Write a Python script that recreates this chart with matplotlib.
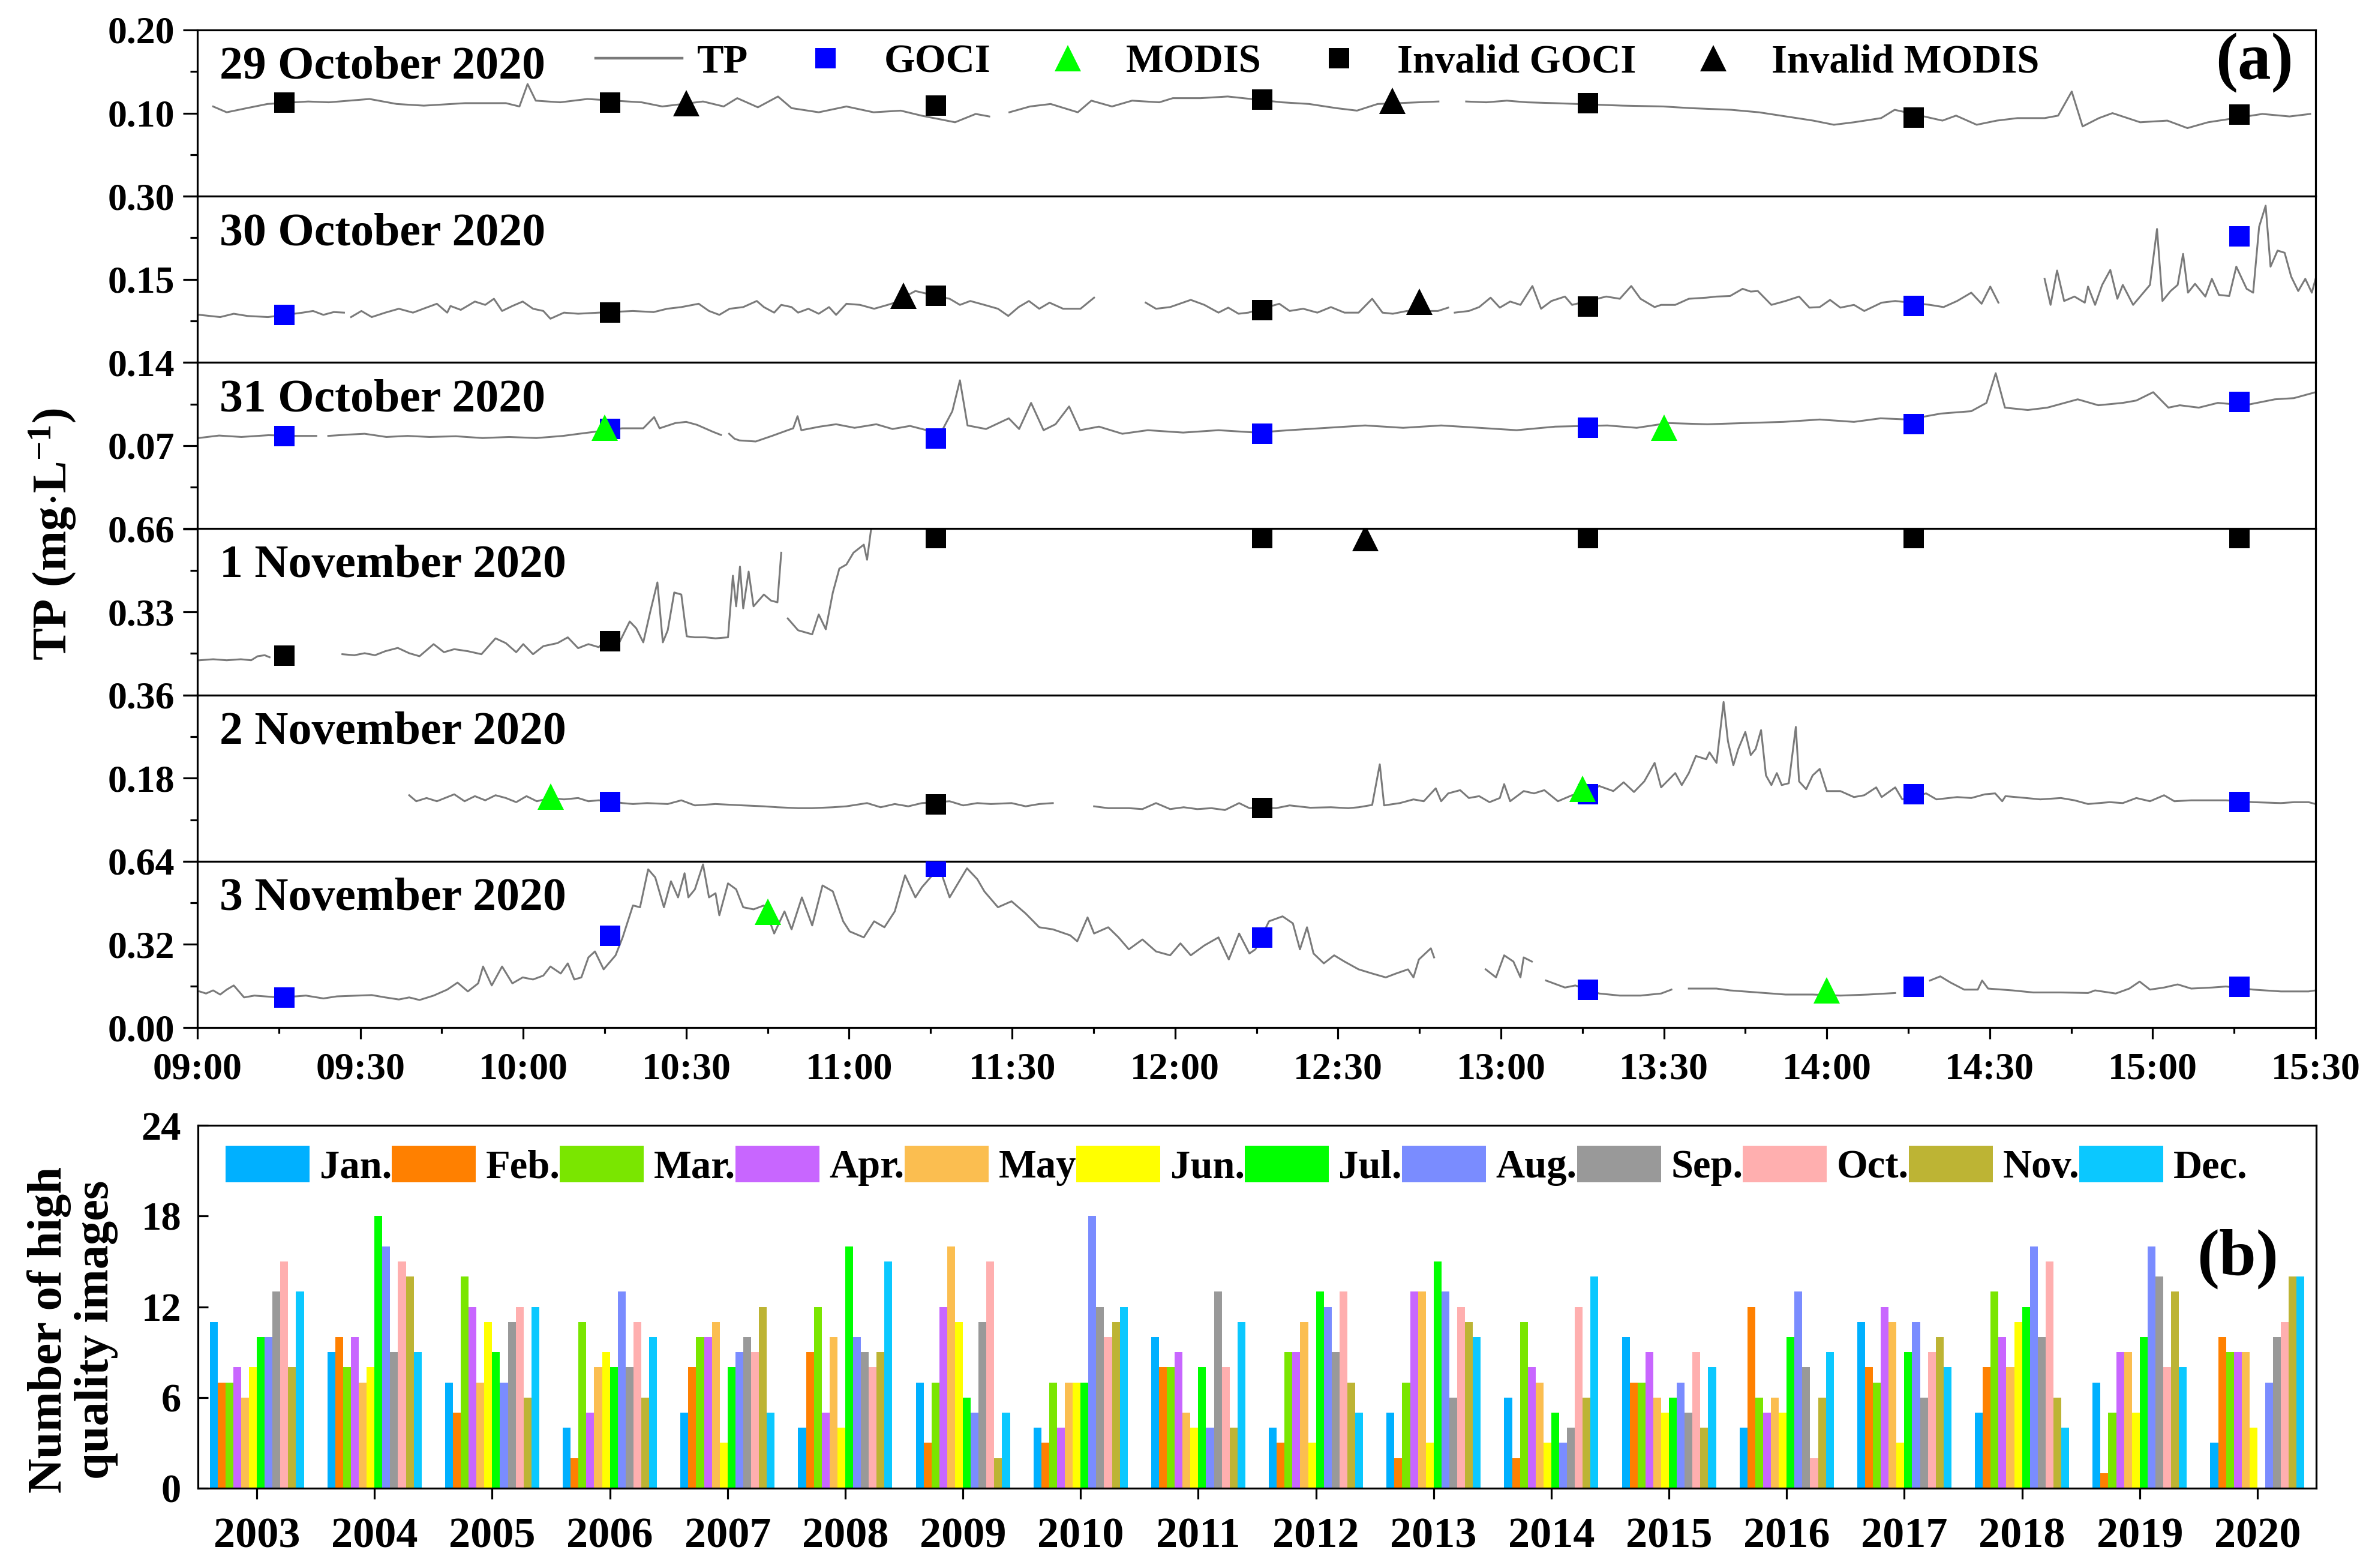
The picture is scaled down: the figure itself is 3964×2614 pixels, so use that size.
import numpy as np
import matplotlib
matplotlib.use('Agg')
import matplotlib.pyplot as plt
from matplotlib.lines import Line2D
from matplotlib.ticker import FixedLocator

plt.rcParams['font.family'] = 'Liberation Serif'
plt.rcParams['font.weight'] = 'bold'
plt.rcParams['mathtext.fontset'] = 'custom'
plt.rcParams['mathtext.rm'] = 'Liberation Serif:bold'
plt.rcParams['mathtext.default'] = 'rm'

nan = np.nan

# ---------------- (a) TP time series, minutes after 09:00 ----------------
oct29 = np.array([
    (2.9, 0.108), (5.4, 0.101), (9.1, 0.106), (12.9, 0.111), (20.4, 0.114), (24.2, 0.113),
    (31.7, 0.117), (36.7, 0.111), (41.7, 0.109), (49.3, 0.112), (56.8, 0.112), (59.3, 0.108),
    (60.8, 0.135), (62.3, 0.115), (66.8, 0.113), (71.8, 0.117), (81.8, 0.113), (85.6, 0.108),
    (93.1, 0.114), (96.9, 0.108), (99.4, 0.118), (103.2, 0.107), (106.9, 0.120), (109.4, 0.106),
    (114.4, 0.101), (119.5, 0.108), (124.5, 0.101), (129.5, 0.103), (133.3, 0.097), (139.5, 0.089),
    (143.3, 0.099), (145.8, 0.096), (147.5, nan), (149.5, 0.101), (153.3, 0.108), (157.1, 0.111),
    (162.1, 0.101), (164.6, 0.115), (168.4, 0.108), (172.1, 0.115), (177.1, 0.113), (179.6, 0.118),
    (184.7, 0.118), (189.7, 0.120), (199.7, 0.113), (204.7, 0.111), (209.7, 0.106), (213.5, 0.103),
    (217.3, 0.111), (224.8, 0.113), (228.5, 0.114), (231.0, nan), (233.6, 0.114), (237.3, 0.113),
    (241.1, 0.115), (244.8, 0.113), (249.8, 0.112), (262.4, 0.109), (269.9, 0.108), (274.9, 0.106),
    (282.4, 0.104), (287.5, 0.101), (292.5, 0.096), (297.5, 0.091), (301.3, 0.086), (305.0, 0.089),
    (310.0, 0.094), (312.5, 0.104), (321.3, 0.091), (323.8, 0.097), (327.6, 0.086), (331.3, 0.091),
    (335.1, 0.094), (340.1, 0.094), (342.6, 0.097), (345.1, 0.126), (347.1, 0.084), (350.1, 0.094),
    (352.6, 0.100), (357.7, 0.089), (362.7, 0.091), (366.4, 0.082), (370.2, 0.089), (380.2, 0.099),
    (385.2, 0.096), (389.0, 0.099)])

oct30 = np.array([
    (0.4, 0.086), (4.2, 0.082), (6.7, 0.088), (9.2, 0.084), (13.0, 0.082), (19.4, 0.090),
    (21.3, 0.093), (23.2, 0.086), (25.1, 0.091), (27.0, 0.090), (27.7, nan), (28.3, 0.082),
    (30.2, 0.093), (32.1, 0.082), (34.6, 0.090), (37.1, 0.097), (39.7, 0.090), (41.6, 0.097),
    (44.1, 0.106), (46.0, 0.090), (46.6, 0.102), (48.5, 0.095), (51.1, 0.110), (53.0, 0.104),
    (54.6, 0.115), (56.1, 0.093), (58.0, 0.102), (59.9, 0.110), (61.8, 0.097), (63.7, 0.093),
    (65.0, 0.079), (67.5, 0.090), (70.1, 0.088), (73.9, 0.090), (80.2, 0.093), (84.0, 0.091),
    (86.5, 0.097), (89.1, 0.100), (92.3, 0.106), (94.2, 0.093), (96.1, 0.086), (98.0, 0.097),
    (100.5, 0.100), (103.0, 0.111), (104.3, 0.100), (106.2, 0.090), (107.5, 0.104), (109.4, 0.100),
    (110.6, 0.090), (112.5, 0.097), (114.4, 0.088), (116.3, 0.100), (117.6, 0.086), (119.5, 0.106),
    (122.0, 0.104), (124.6, 0.097), (127.1, 0.104), (128.4, 0.108), (130.3, 0.119), (132.2, 0.129),
    (135.7, 0.121), (138.5, 0.115), (140.4, 0.104), (142.3, 0.111), (144.9, 0.104), (147.4, 0.097),
    (149.3, 0.084), (151.2, 0.100), (153.1, 0.111), (155.0, 0.097), (156.9, 0.108), (159.4, 0.097),
    (162.6, 0.097), (165.1, 0.117), (170.0, nan), (174.6, 0.108), (176.5, 0.097), (179.1, 0.100),
    (182.9, 0.113), (185.4, 0.104), (188.0, 0.090), (189.8, 0.099), (191.7, 0.088), (193.5, 0.090),
    (199.2, 0.106), (201.1, 0.093), (203.6, 0.097), (206.2, 0.090), (208.7, 0.100), (211.2, 0.090),
    (213.8, 0.090), (216.3, 0.115), (218.2, 0.090), (220.1, 0.088), (222.7, 0.093), (228.4, 0.093),
    (230.3, 0.099), (230.9, nan), (231.5, 0.090), (234.1, 0.093), (236.0, 0.100), (238.1, 0.117),
    (239.8, 0.099), (241.7, 0.110), (243.6, 0.104), (245.8, 0.138), (247.4, 0.097), (249.3, 0.111),
    (251.8, 0.119), (253.1, 0.104), (259.4, 0.119), (261.9, 0.115), (264.0, 0.138), (265.7, 0.115),
    (268.3, 0.100), (269.5, 0.104), (272.1, 0.104), (274.6, 0.115), (277.8, 0.117), (279.7, 0.119),
    (282.2, 0.120), (284.5, 0.133), (286.0, 0.128), (287.3, 0.129), (289.8, 0.104), (292.4, 0.111),
    (294.9, 0.119), (296.8, 0.099), (298.7, 0.100), (300.6, 0.113), (302.5, 0.099), (305.0, 0.104),
    (306.9, 0.093), (310.1, 0.108), (312.6, 0.111), (319.0, 0.104), (321.5, 0.100), (324.0, 0.111),
    (326.6, 0.126), (328.5, 0.106), (330.1, 0.137), (331.6, 0.108), (335.0, nan), (340.1, 0.151),
    (341.2, 0.104), (342.4, 0.166), (343.7, 0.111), (345.6, 0.119), (347.5, 0.108), (348.1, 0.137),
    (349.4, 0.104), (350.7, 0.140), (352.2, 0.167), (353.5, 0.115), (354.5, 0.140), (356.4, 0.104),
    (358.3, 0.126), (359.5, 0.140), (360.8, 0.241), (361.8, 0.111), (363.3, 0.129), (364.6, 0.140),
    (365.6, 0.196), (366.5, 0.126), (367.8, 0.142), (369.7, 0.119), (370.9, 0.151), (372.2, 0.122),
    (374.1, 0.120), (375.4, 0.173), (377.3, 0.133), (378.5, 0.126), (379.6, 0.245), (380.8, 0.283),
    (381.7, 0.173), (383.0, 0.202), (384.3, 0.198), (385.5, 0.155), (386.8, 0.129), (388.1, 0.151),
    (389.3, 0.126), (390.0, 0.151)])

oct31 = np.array([
    (0.2, 0.0764), (4.0, 0.0785), (8.1, 0.0773), (13.1, 0.0788), (18.0, 0.0782), (21.9, 0.0782),
    (23.0, nan), (24.1, 0.0782), (27.8, 0.0793), (30.8, 0.0800), (34.8, 0.0773), (38.7, 0.0782),
    (42.7, 0.0773), (47.6, 0.0779), (52.5, 0.0764), (57.4, 0.0773), (62.4, 0.0764), (67.3, 0.0782),
    (70.3, 0.0800), (78.2, 0.0846), (82.1, 0.0846), (84.1, 0.0940), (85.1, 0.0846), (88.0, 0.0890),
    (90.0, 0.0900), (92.0, 0.0875), (94.9, 0.0817), (96.4, 0.0790), (97.2, nan), (97.9, 0.0800),
    (98.9, 0.0758), (99.8, 0.0744), (102.8, 0.0735), (105.8, 0.0782), (108.7, 0.0830), (109.7, 0.0846),
    (110.5, 0.0948), (111.2, 0.0830), (114.6, 0.0860), (117.6, 0.0880), (121.0, 0.0850), (125.0, 0.0880),
    (128.0, 0.0840), (131.2, 0.0866), (136.8, 0.0800), (139.0, 0.0990), (140.4, 0.1250), (141.8, 0.0870),
    (145.2, 0.0840), (149.4, 0.0930), (151.3, 0.0840), (153.5, 0.1060), (155.8, 0.0830), (158.0, 0.0880),
    (160.5, 0.1030), (162.5, 0.0830), (166.0, 0.0860), (170.3, 0.0800), (175.0, 0.0830), (181.5, 0.0810),
    (188.0, 0.0830), (195.0, 0.0810), (201.0, 0.0830), (208.0, 0.0850), (215.0, 0.0870), (222.0, 0.0850),
    (229.0, 0.0870), (236.0, 0.0850), (242.9, 0.0830), (250.0, 0.0860), (259.6, 0.0870), (265.0, 0.0850),
    (270.8, 0.0890), (278.0, 0.0880), (284.8, 0.0890), (292.0, 0.0900), (298.7, 0.0920), (305.0, 0.0900),
    (309.9, 0.0930), (315.0, 0.0920), (321.0, 0.0970), (326.6, 0.0990), (329.4, 0.1060), (331.1, 0.1310),
    (332.8, 0.1020), (337.0, 0.1000), (340.6, 0.1020), (346.2, 0.1090), (350.0, 0.1040), (354.5, 0.1060),
    (357.0, 0.1080), (360.1, 0.1150), (362.9, 0.1020), (365.0, 0.1040), (368.5, 0.1020), (372.0, 0.1060),
    (377.0, 0.1040), (382.5, 0.1090), (386.0, 0.1100), (390.0, 0.1150)])

nov1 = np.array([
    (0.4, 0.138), (2.9, 0.142), (5.4, 0.138), (8.0, 0.142), (9.9, 0.138), (11.1, 0.154),
    (12.4, 0.158), (13.3, 0.150), (20.0, nan), (26.7, 0.162), (28.9, 0.158), (30.8, 0.166),
    (32.7, 0.158), (34.6, 0.174), (36.9, 0.187), (39.0, 0.166), (40.9, 0.154), (43.5, 0.202),
    (45.4, 0.170), (47.3, 0.182), (49.8, 0.174), (52.3, 0.162), (54.9, 0.225), (56.8, 0.206),
    (58.7, 0.170), (60.0, 0.202), (61.8, 0.162), (63.7, 0.194), (66.3, 0.206), (68.2, 0.229),
    (70.1, 0.186), (72.0, 0.202), (73.9, 0.190), (75.8, 0.233), (77.7, 0.209), (79.6, 0.292),
    (80.8, 0.265), (82.1, 0.209), (83.4, 0.332), (84.7, 0.447), (85.7, 0.209), (86.6, 0.257),
    (87.8, 0.407), (89.1, 0.399), (90.1, 0.233), (91.6, 0.229), (93.5, 0.229), (95.4, 0.225),
    (97.7, 0.229), (98.6, 0.474), (99.2, 0.352), (99.9, 0.510), (100.5, 0.344), (101.5, 0.490),
    (102.4, 0.352), (104.3, 0.399), (105.6, 0.375), (106.8, 0.368), (107.5, 0.565), (108.1, nan),
    (108.7, 0.304), (110.6, 0.257), (113.2, 0.241), (114.4, 0.320), (115.7, 0.261), (117.0, 0.407),
    (118.2, 0.502), (119.5, 0.518), (120.8, 0.565), (122.7, 0.597), (123.3, 0.537), (124.0, 0.652),
    (124.6, 0.700), (125.5, 0.760)])

nov2 = np.array([
    (39.0, 0.143), (40.3, 0.130), (42.2, 0.137), (44.1, 0.130), (47.3, 0.145), (49.2, 0.130),
    (51.1, 0.141), (53.0, 0.132), (54.9, 0.143), (56.8, 0.137), (58.7, 0.128), (60.6, 0.141),
    (62.5, 0.130), (65.0, 0.137), (67.5, 0.134), (70.1, 0.137), (72.0, 0.130), (73.9, 0.132),
    (76.0, 0.130), (78.3, 0.126), (80.2, 0.124), (82.8, 0.126), (86.6, 0.124), (89.1, 0.132),
    (91.6, 0.121), (95.4, 0.124), (100.5, 0.121), (104.3, 0.119), (106.8, 0.117), (110.6, 0.115),
    (113.2, 0.115), (117.0, 0.117), (119.5, 0.119), (123.3, 0.126), (125.8, 0.117), (128.4, 0.124),
    (130.9, 0.119), (133.4, 0.126), (138.5, 0.130), (141.0, 0.121), (143.6, 0.126), (146.1, 0.124),
    (149.9, 0.126), (152.5, 0.119), (155.0, 0.124), (157.5, 0.126), (161.0, nan), (165.1, 0.119),
    (167.7, 0.115), (171.5, 0.115), (174.0, 0.113), (176.5, 0.126), (179.1, 0.113), (181.6, 0.117),
    (184.1, 0.113), (186.7, 0.115), (189.2, 0.111), (191.8, 0.126), (193.7, 0.115), (196.0, 0.116),
    (198.6, 0.115), (201.1, 0.121), (204.9, 0.116), (208.7, 0.117), (211.9, 0.115), (213.8, 0.117),
    (216.3, 0.122), (217.7, 0.210), (218.5, 0.121), (221.4, 0.126), (223.9, 0.134), (225.8, 0.130),
    (228.0, 0.158), (229.0, 0.130), (230.3, 0.147), (232.5, 0.154), (234.1, 0.137), (236.0, 0.141),
    (237.9, 0.128), (239.8, 0.137), (240.6, 0.167), (241.7, 0.130), (244.2, 0.152), (246.1, 0.147),
    (248.0, 0.154), (250.5, 0.130), (253.1, 0.143), (255.6, 0.147), (258.1, 0.163), (260.7, 0.152),
    (262.6, 0.171), (264.5, 0.150), (266.4, 0.173), (268.3, 0.213), (269.5, 0.160), (272.1, 0.191),
    (273.3, 0.165), (274.6, 0.191), (275.9, 0.228), (277.8, 0.221), (278.4, 0.236), (279.7, 0.213),
    (281.0, 0.345), (281.8, 0.260), (282.8, 0.208), (283.7, 0.243), (285.0, 0.280), (286.0, 0.230),
    (286.9, 0.243), (287.9, 0.284), (288.8, 0.186), (289.8, 0.165), (290.8, 0.191), (291.7, 0.165),
    (293.0, 0.169), (294.3, 0.291), (294.9, 0.173), (296.2, 0.156), (297.4, 0.186), (298.7, 0.200),
    (300.0, 0.152), (302.5, 0.152), (305.0, 0.139), (306.9, 0.143), (309.1, 0.160), (310.1, 0.139),
    (312.6, 0.160), (313.9, 0.134), (318.3, 0.147), (320.2, 0.134), (324.0, 0.139), (326.6, 0.137),
    (329.1, 0.145), (331.0, 0.147), (332.3, 0.130), (332.9, 0.141), (336.7, 0.137), (339.3, 0.134),
    (343.1, 0.137), (345.6, 0.132), (348.1, 0.124), (352.1, 0.128), (354.5, 0.126), (357.0, 0.137),
    (359.5, 0.130), (362.1, 0.143), (364.0, 0.130), (367.1, 0.132), (370.9, 0.132), (373.5, 0.132),
    (378.5, 0.128), (383.6, 0.126), (386.1, 0.128), (388.7, 0.128), (390.0, 0.124)])

nov3 = np.array([
    (0.4, 0.139), (1.6, 0.131), (2.9, 0.143), (4.2, 0.127), (5.4, 0.146), (6.7, 0.162),
    (8.6, 0.116), (10.5, 0.123), (12.4, 0.120), (15.0, 0.116), (18.1, 0.120), (20.0, 0.123),
    (23.2, 0.112), (25.7, 0.120), (29.5, 0.123), (32.1, 0.125), (34.6, 0.116), (37.1, 0.108),
    (39.0, 0.116), (40.9, 0.106), (43.5, 0.123), (46.0, 0.146), (47.9, 0.173), (49.8, 0.139),
    (51.7, 0.170), (52.6, 0.235), (54.2, 0.162), (56.1, 0.235), (58.0, 0.170), (59.9, 0.193),
    (61.8, 0.185), (63.7, 0.200), (65.0, 0.235), (66.9, 0.208), (68.2, 0.247), (69.4, 0.185),
    (70.7, 0.193), (72.0, 0.270), (73.2, 0.293), (74.8, 0.224), (77.0, 0.278), (78.3, 0.347),
    (80.2, 0.470), (81.5, 0.463), (83.0, 0.609), (84.3, 0.578), (85.9, 0.463), (87.2, 0.563),
    (88.5, 0.501), (89.7, 0.594), (90.4, 0.501), (91.6, 0.532), (93.1, 0.628), (94.2, 0.501),
    (95.4, 0.517), (96.1, 0.432), (97.7, 0.555), (99.2, 0.532), (100.5, 0.463), (102.4, 0.455),
    (104.3, 0.470), (106.2, 0.362), (108.1, 0.447), (109.4, 0.378), (111.3, 0.501), (113.2, 0.393),
    (115.1, 0.547), (117.0, 0.524), (118.9, 0.409), (120.1, 0.370), (122.7, 0.347), (124.6, 0.409),
    (126.5, 0.386), (128.4, 0.447), (130.3, 0.586), (132.2, 0.501), (133.4, 0.540), (136.6, 0.617),
    (138.5, 0.501), (141.7, 0.613), (143.6, 0.571), (144.9, 0.524), (147.4, 0.463), (149.9, 0.486),
    (152.5, 0.439), (155.0, 0.386), (157.5, 0.378), (160.7, 0.355), (162.0, 0.332), (163.9, 0.424),
    (165.1, 0.362), (167.7, 0.386), (169.6, 0.347), (171.5, 0.301), (174.0, 0.339), (176.5, 0.293),
    (179.1, 0.278), (181.0, 0.324), (182.9, 0.278), (185.4, 0.316), (188.0, 0.347), (189.9, 0.262),
    (191.8, 0.362), (193.7, 0.285), (194.8, 0.301), (197.3, 0.409), (199.8, 0.428), (201.7, 0.401),
    (203.0, 0.301), (204.3, 0.386), (205.5, 0.285), (207.4, 0.247), (209.3, 0.278), (211.2, 0.254),
    (213.8, 0.224), (216.3, 0.208), (218.8, 0.193), (220.7, 0.208), (222.9, 0.224), (223.9, 0.193),
    (224.9, 0.262), (227.1, 0.305), (227.7, 0.270), (232.0, nan), (237.2, 0.224), (239.1, 0.193),
    (240.6, 0.278), (242.3, 0.254), (243.6, 0.193), (244.2, 0.270), (245.7, 0.254), (247.0, nan),
    (248.3, 0.181), (251.8, 0.154), (253.7, 0.162), (258.1, 0.131), (261.9, 0.123), (265.7, 0.123),
    (269.5, 0.131), (271.4, 0.146), (273.0, nan), (274.6, 0.150), (279.7, 0.150), (282.2, 0.143),
    (287.3, 0.135), (292.4, 0.127), (297.4, 0.127), (302.5, 0.123), (307.6, 0.127), (312.6, 0.133),
    (316.0, nan), (319.0, 0.181), (320.9, 0.197), (322.8, 0.173), (325.3, 0.146), (327.8, 0.146),
    (328.6, 0.181), (329.7, 0.150), (334.2, 0.143), (338.0, 0.135), (343.1, 0.135), (348.1, 0.133),
    (349.4, 0.143), (353.2, 0.131), (355.7, 0.150), (357.6, 0.177), (359.5, 0.146), (362.1, 0.154),
    (364.6, 0.166), (367.1, 0.150), (370.9, 0.154), (373.5, 0.158), (378.5, 0.146), (383.6, 0.139),
    (388.7, 0.139), (390.0, 0.143)])

# satellite match-ups
goci_t = [16, 76, 136, 196, 256, 316, 376]
goci_oct29 = [0.113, 0.113, 0.109, 0.116, 0.112, 0.095, 0.098]
goci_ok_oct29 = [0, 0, 0, 0, 0, 0, 0]
goci_oct30 = [0.086, 0.090, 0.121, 0.095, 0.101, 0.102, 0.228]
goci_ok_oct30 = [1, 0, 0, 0, 0, 1, 1]
goci_oct31 = [0.078, 0.084, 0.076, 0.080, 0.085, 0.088, 0.107]
goci_ok_oct31 = [1, 1, 1, 1, 1, 1, 1]
goci_nov1 = [0.156, 0.213, 0.624, 0.624, 0.624, 0.624, 0.624]
goci_ok_nov1 = [0, 0, 0, 0, 0, 0, 0]
goci_nov2 = [nan, 0.128, 0.123, 0.116, 0.145, 0.145, 0.128]
goci_ok_nov2 = [1, 1, 0, 0, 1, 1, 1]
goci_nov3 = [0.116, 0.353, 0.619, 0.347, 0.146, 0.156, 0.156]
goci_ok_nov3 = [1, 1, 1, 1, 1, 1, 1]

modis_t_oct29 = [90, 220]; modis_oct29 = [0.112, 0.115]; modis_ok_oct29 = [0, 0]
modis_t_oct30 = [130, 225]; modis_oct30 = [0.120, 0.110]; modis_ok_oct30 = [0, 0]
modis_t_oct31 = [75, 270]; modis_oct31 = [0.085, 0.085]; modis_ok_oct31 = [1, 1]
modis_t_nov1 = [215]; modis_nov1 = [0.624]; modis_ok_nov1 = [0]
modis_t_nov2 = [65, 255]; modis_nov2 = [0.140, 0.157]; modis_ok_nov2 = [1, 1]
modis_t_nov3 = [105, 300]; modis_nov3 = [0.445, 0.143]; modis_ok_nov3 = [1, 1]

day_titles = ['29 October 2020', '30 October 2020', '31 October 2020',
              '1 November 2020', '2 November 2020', '3 November 2020']
y_max = [0.20, 0.30, 0.14, 0.66, 0.36, 0.64]
time_labels = ['09:00', '09:30', '10:00', '10:30', '11:00', '11:30', '12:00',
               '12:30', '13:00', '13:30', '14:00', '14:30', '15:00', '15:30']

# ---------------- (b) number of high quality images ----------------
years = np.arange(2003, 2021)
months = ['Jan.', 'Feb.', 'Mar.', 'Apr.', 'May', 'Jun.', 'Jul.', 'Aug.', 'Sep.', 'Oct.', 'Nov.', 'Dec.']
jan = [11, 9, 7, 4, 5, 4, 7, 4, 10, 4, 5, 6, 10, 4, 11, 5, 7, 3]
feb = [7, 10, 5, 2, 8, 9, 3, 3, 8, 3, 2, 2, 7, 12, 8, 8, 1, 10]
mar = [7, 8, 14, 11, 10, 12, 7, 7, 8, 9, 7, 11, 7, 6, 7, 13, 5, 9]
apr = [8, 10, 12, 5, 10, 5, 12, 4, 9, 9, 13, 8, 9, 5, 12, 10, 9, 9]
may = [6, 7, 7, 8, 11, 10, 16, 7, 5, 11, 13, 7, 6, 6, 11, 8, 9, 9]
jun = [8, 8, 11, 9, 3, 4, 11, 7, 4, 3, 3, 3, 5, 5, 3, 11, 5, 4]
jul = [10, 18, 9, 8, 8, 16, 6, 7, 8, 13, 15, 5, 6, 10, 9, 12, 10, 0]
aug = [10, 16, 7, 13, 9, 10, 5, 18, 4, 12, 13, 3, 7, 13, 11, 16, 16, 7]
sep = [13, 9, 11, 8, 10, 9, 11, 12, 13, 9, 6, 4, 5, 8, 6, 10, 14, 10]
octo = [15, 15, 12, 11, 9, 8, 15, 10, 8, 13, 12, 12, 9, 2, 9, 15, 8, 11]
nov = [8, 14, 6, 6, 12, 9, 2, 11, 4, 7, 11, 6, 4, 6, 10, 6, 13, 14]
dec = [13, 9, 12, 10, 5, 15, 5, 12, 11, 5, 10, 14, 8, 9, 8, 4, 8, 14]
month_colors = ['#00B0FF', '#FF8000', '#7AE600', '#C866FF', '#FBBE50', '#FFFF00',
                '#00FF00', '#7A8CFF', '#999999', '#FFAFAF', '#BDB434', '#0BC8FF']

# ---------------- figure ----------------
W_PX, H_PX, DPI = 3964, 2614, 200
fig = plt.figure(figsize=(W_PX / DPI, H_PX / DPI), dpi=DPI)

left = 329 / W_PX
width = 3531 / W_PX
top_px = 50
ph = 1663 / 6

days = [oct29, oct30, oct31, nov1, nov2, nov3]
gocis = [goci_oct29, goci_oct30, goci_oct31, goci_nov1, goci_nov2, goci_nov3]
goci_oks = [goci_ok_oct29, goci_ok_oct30, goci_ok_oct31, goci_ok_nov1, goci_ok_nov2, goci_ok_nov3]
modis_ts = [modis_t_oct29, modis_t_oct30, modis_t_oct31, modis_t_nov1, modis_t_nov2, modis_t_nov3]
modiss = [modis_oct29, modis_oct30, modis_oct31, modis_nov1, modis_nov2, modis_nov3]
modis_oks = [modis_ok_oct29, modis_ok_oct30, modis_ok_oct31, modis_ok_nov1, modis_ok_nov2, modis_ok_nov3]

sq_ms = 12
tri_ms = 15.5
lw_sp = 1.15

axes = []
for i in range(6):
    b = 1 - (top_px + ph * (i + 1)) / H_PX
    ax = fig.add_axes([left, b, width, ph / H_PX])
    axes.append(ax)
    d = days[i]
    ax.plot(d[:, 0], d[:, 1], color='#7a7a7a', lw=1.1, zorder=2)

    g = np.array(gocis[i]); ok = np.array(goci_oks[i]) == 1
    gt = np.array(goci_t)
    ax.plot(gt[ok], g[ok], 's', color='#0000FF', ms=sq_ms, mew=0, zorder=4)
    ax.plot(gt[~ok], g[~ok], 's', color='black', ms=sq_ms, mew=0, zorder=4)
    mt = np.array(modis_ts[i]); mv = np.array(modiss[i]); mok = np.array(modis_oks[i]) == 1
    ax.plot(mt[mok], mv[mok], '^', color='#00FF00', ms=tri_ms, mew=0, zorder=5)
    ax.plot(mt[~mok], mv[~mok], '^', color='black', ms=tri_ms, mew=0, zorder=5)

    ym = y_max[i]
    ax.set_xlim(0, 390)
    ax.set_ylim(0, ym)
    ax.set_yticks([0, ym / 2, ym])
    lab0 = '0.00' if i == 5 else ''
    ax.set_yticklabels([lab0, '%.2f' % (ym / 2), '%.2f' % ym])
    ax.yaxis.set_minor_locator(FixedLocator([ym / 4, 3 * ym / 4]))
    ax.tick_params(axis='y', which='major', direction='out', length=8.5, width=lw_sp,
                   labelsize=23, pad=5)
    ax.tick_params(axis='y', which='minor', direction='out', length=4.5, width=lw_sp)
    ax.set_xticks(np.arange(0, 391, 30))
    ax.xaxis.set_minor_locator(FixedLocator(np.arange(15, 391, 30)))
    if i == 5:
        ax.set_xticklabels(time_labels)
        ax.tick_params(axis='x', which='major', direction='out', length=7, width=lw_sp,
                       labelsize=23, pad=8)
        ax.tick_params(axis='x', which='minor', direction='out', length=3.5, width=lw_sp)
    else:
        ax.tick_params(axis='x', which='both', length=0, labelbottom=False)
    for sp in ax.spines.values():
        sp.set_linewidth(lw_sp)
    ax.text(0.0105, 0.775, day_titles[i], transform=ax.transAxes, fontsize=28,
            ha='left', va='center', fontweight='bold', zorder=6)

handles = [
    Line2D([], [], color='#7a7a7a', lw=1.6),
    Line2D([], [], ls='none', marker='s', color='#0000FF', ms=sq_ms, mew=0),
    Line2D([], [], ls='none', marker='^', color='#00FF00', ms=tri_ms, mew=0),
    Line2D([], [], ls='none', marker='s', color='black', ms=sq_ms, mew=0),
    Line2D([], [], ls='none', marker='^', color='black', ms=tri_ms, mew=0),
]
axes[0].legend(handles, ['TP', 'GOCI', 'MODIS', 'Invalid GOCI', 'Invalid MODIS'],
               ncol=5, loc='center left', bbox_to_anchor=(0.188, 0.805), frameon=False,
               fontsize=24, handlelength=2.17, handletextpad=0.37, columnspacing=0.85,
               borderpad=0, borderaxespad=0, numpoints=1)
axes[0].text(0.971, 0.80, '(a)', transform=axes[0].transAxes, fontsize=40,
             ha='center', va='center', fontweight='bold')

fig.text(88 / W_PX, 1 - 890 / H_PX, 'TP (mg$\\cdot$L$^{-1}$)', rotation=90, fontsize=29,
         ha='center', va='center', fontweight='bold')

# bar panel
axb = fig.add_axes([330 / W_PX, 1 - 2481 / H_PX, 3531 / W_PX, 605 / H_PX])
counts = [jan, feb, mar, apr, may, jun, jul, aug, sep, octo, nov, dec]
bw = 0.8 / 12
for k in range(12):
    axb.bar(years + (k - 5.5) * bw, counts[k], width=bw, color=month_colors[k],
            label=months[k], linewidth=0)
axb.set_xlim(2002.5, 2020.5)
axb.set_ylim(0, 24)
axb.set_yticks([0, 6, 12, 18, 24])
axb.set_xticks(years)
axb.tick_params(axis='y', direction='in', length=6, width=lw_sp, labelsize=24, pad=10)
axb.tick_params(axis='x', direction='out', length=6.5, width=lw_sp, labelsize=26, pad=11)
for sp in axb.spines.values():
    sp.set_linewidth(lw_sp)
axb.legend(ncol=12, loc='upper left', bbox_to_anchor=(0.013, 0.944), frameon=False,
           fontsize=24, handlelength=2.1, handleheight=1.03, handletextpad=0.25,
           columnspacing=0.0, borderpad=0, borderaxespad=0)
axb.text(0.963, 0.631, '(b)', transform=axb.transAxes, fontsize=40,
         ha='center', va='center', fontweight='bold')
fig.text(121 / W_PX, 1 - 2217 / H_PX, 'Number of high\nquality images', rotation=90,
         fontsize=29, ha='center', va='center', multialignment='center',
         fontweight='bold', linespacing=1.1)

fig.savefig('out.png', dpi=DPI)
